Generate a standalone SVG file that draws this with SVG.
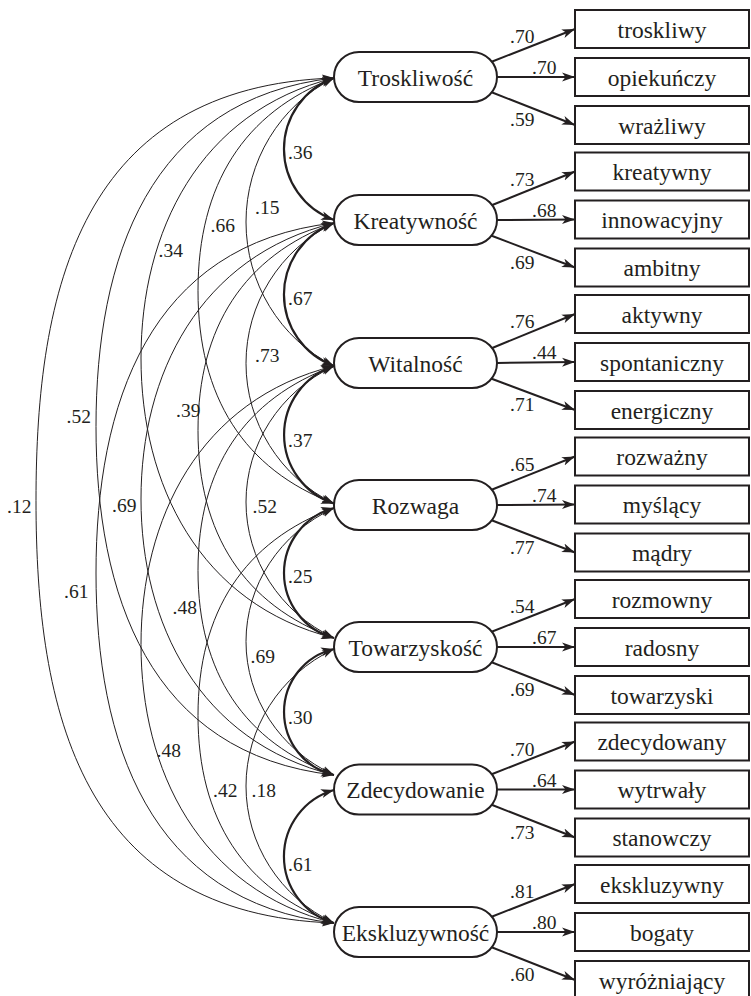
<svg xmlns="http://www.w3.org/2000/svg" width="751" height="996" viewBox="0 0 751 996">
<defs>
<marker id="ah" viewBox="0 0 13 10" refX="13" refY="5" markerWidth="13" markerHeight="10" markerUnits="userSpaceOnUse" orient="auto-start-reverse">
<path d="M0,0.5 L13,5 L0,9.5 L3.5,5 z" fill="#231f20"/>
</marker>
<marker id="ahs" viewBox="0 0 12 9" refX="12" refY="4.5" markerWidth="12" markerHeight="9" markerUnits="userSpaceOnUse" orient="auto-start-reverse">
<path d="M0,0.5 L12,4.5 L0,8.5 L3.2,4.5 z" fill="#231f20"/>
</marker>
</defs>
<style>
.pill{fill:#fff;stroke:#231f20;stroke-width:2}
.box{fill:#fff;stroke:#231f20;stroke-width:2}
.lbl{font-family:"Liberation Serif","Times New Roman",serif;font-size:23.5px;fill:#231f20;text-anchor:middle}
.num{font-family:"Liberation Serif","Times New Roman",serif;font-size:19.5px;fill:#231f20}
.load{fill:none;stroke:#231f20;stroke-width:2;marker-end:url(#ah)}
.cov{fill:none;stroke:#231f20;stroke-width:1;marker-start:url(#ahs);marker-end:url(#ahs)}
.covb{fill:none;stroke:#231f20;stroke-width:2.2;marker-start:url(#ah);marker-end:url(#ah)}
</style>
<rect width="751" height="996" fill="#fff"/>

<g id="connectors">
<path class="cov" d="M334,78 C80.7,86.45 36,289.25 36,500.5 C36,711.75 80.7,914.55 334,923"/>
<path class="cov" d="M334,78 C148.4,98.9 96,259.2 96,426.5 C96,593.8 148.4,754.1 334,775"/>
<path class="cov" d="M334,223 C148.4,244 96,405 96,573 C96,741 148.4,902 334,923"/>
<path class="cov" d="M334,78 C198.9,111.6 141,232 141,358 C141,484 198.9,604.4 334,638"/>
<path class="cov" d="M334,223 C198.9,256.1 141,374.8 141,499 C141,623.2 198.9,741.9 334,775"/>
<path class="cov" d="M334,366 C198.9,399.4 141,519.2 141,644.5 C141,769.8 198.9,889.6 334,923"/>
<path class="cov" d="M334,78 C244.2,112 198,184.35 198,290.75 C198,397.15 244.2,469.5 334,503.5"/>
<path class="cov" d="M334,223 C244.2,256.2 198,326.75 198,430.5 C198,534.25 244.2,604.8 334,638"/>
<path class="cov" d="M334,366 C244.2,398.7 198,468.25 198,570.5 C198,672.75 244.2,742.3 334,775"/>
<path class="cov" d="M334,508 C244.2,541.2 198,611.75 198,715.5 C198,819.25 244.2,889.8 334,923"/>
<path class="cov" d="M334,78 C279.4,105.4 246,161.5 246,222 C246,282.5 279.4,338.6 334,366"/>
<path class="cov" d="M334,223 C279.4,249.6 246,304.35 246,363.25 C246,422.15 279.4,476.9 334,503.5"/>
<path class="cov" d="M334,366 C279.4,391.8 246,444.9 246,502 C246,559.1 279.4,612.2 334,638"/>
<path class="cov" d="M334,508 C279.4,533.4 246,585.4 246,641.5 C246,697.6 279.4,749.6 334,775"/>
<path class="cov" d="M334,649 C279.4,675 246,728.5 246,786 C246,843.5 279.4,897 334,923"/>
<path class="covb" d="M334,78 A75.4,75.4 0 0 0 334,220"/>
<path class="covb" d="M334,223 A76.1,76.1 0 0 0 334,366"/>
<path class="covb" d="M334,366 A72.3,72.3 0 0 0 334,503.5"/>
<path class="covb" d="M334,508 A67.25,67.25 0 0 0 334,638"/>
<path class="covb" d="M334,649 A64.7,64.7 0 0 0 334,775"/>
<path class="covb" d="M334,790 A69.2,69.2 0 0 0 334,923"/>
<path class="load" d="M491,62 L575,29"/><path class="load" d="M497,77 L575,77"/><path class="load" d="M491,92 L575,125"/>
<path class="load" d="M491,205.5 L575,171.5"/><path class="load" d="M497,220 L575,219.5"/><path class="load" d="M491,235.5 L575,267.5"/>
<path class="load" d="M491,348.5 L575,314"/><path class="load" d="M497,363 L575,362"/><path class="load" d="M491,378.5 L575,410"/>
<path class="load" d="M491,490 L575,456.5"/><path class="load" d="M497,505 L575,504.5"/><path class="load" d="M491,520 L575,552.5"/>
<path class="load" d="M491,632 L575,599"/><path class="load" d="M497,647 L575,647"/><path class="load" d="M491,662 L575,695"/>
<path class="load" d="M491,774.5 L575,741.5"/><path class="load" d="M497,789.5 L575,789.5"/><path class="load" d="M491,804.5 L575,837.5"/>
<path class="load" d="M491,917 L575,884"/><path class="load" d="M497,932 L575,932"/><path class="load" d="M491,947 L575,980"/>
</g>

<g id="connector-labels" class="num">
<text x="288" y="159">.36</text>
<text x="288" y="305">.67</text>
<text x="288" y="446.5">.37</text>
<text x="288" y="583">.25</text>
<text x="288" y="724">.30</text>
<text x="288" y="870.5">.61</text>
<text x="255" y="214">.15</text>
<text x="210.5" y="231.5">.66</text>
<text x="158.5" y="256.5">.34</text>
<text x="66.5" y="422.5">.52</text>
<text x="7" y="512.5">.12</text>
<text x="255" y="361.5">.73</text>
<text x="176" y="416.5">.39</text>
<text x="112" y="512">.69</text>
<text x="64" y="598">.61</text>
<text x="252.5" y="512.5">.52</text>
<text x="172.5" y="614">.48</text>
<text x="156.5" y="757">.48</text>
<text x="250.5" y="663">.69</text>
<text x="213" y="797">.42</text>
<text x="251.5" y="796.5">.18</text>
<text x="510" y="43">.70</text><text x="532" y="74">.70</text><text x="510" y="126">.59</text>
<text x="510" y="185.5">.73</text><text x="532" y="216.5">.68</text><text x="510" y="268.5">.69</text>
<text x="510" y="328">.76</text><text x="532" y="359">.44</text><text x="510" y="411">.71</text>
<text x="510" y="470.5">.65</text><text x="532" y="501.5">.74</text><text x="510" y="553.5">.77</text>
<text x="510" y="613">.54</text><text x="532" y="644">.67</text><text x="510" y="696">.69</text>
<text x="510" y="755.5">.70</text><text x="532" y="786.5">.64</text><text x="510" y="838.5">.73</text>
<text x="510" y="898">.81</text><text x="532" y="929">.80</text><text x="510" y="981">.60</text>
</g>

<g id="troskliwosc"><rect class="pill" x="334" y="52" width="163" height="50" rx="25"/><text class="lbl" x="415.5" y="85.5">Troskliwość</text></g>
<g id="kreatywnosc"><rect class="pill" x="334" y="195" width="163" height="50" rx="25"/><text class="lbl" x="415.5" y="228.5">Kreatywność</text></g>
<g id="witalnosc"><rect class="pill" x="334" y="338" width="163" height="50" rx="25"/><text class="lbl" x="415.5" y="371.5">Witalność</text></g>
<g id="rozwaga"><rect class="pill" x="334" y="480" width="163" height="50" rx="25"/><text class="lbl" x="415.5" y="513.5">Rozwaga</text></g>
<g id="towarzyskosc"><rect class="pill" x="334" y="622" width="163" height="50" rx="25"/><text class="lbl" x="415.5" y="655.5">Towarzyskość</text></g>
<g id="zdecydowanie"><rect class="pill" x="334" y="764.5" width="163" height="50" rx="25"/><text class="lbl" x="415.5" y="798">Zdecydowanie</text></g>
<g id="ekskluzywnosc"><rect class="pill" x="334" y="907" width="163" height="50" rx="25"/><text class="lbl" x="415.5" y="940.5">Ekskluzywność</text></g>

<g id="troskliwy"><rect class="box" x="575" y="10" width="174" height="38"/><text class="lbl" x="662" y="37.5">troskliwy</text></g>
<g id="opiekunczy"><rect class="box" x="575" y="58" width="174" height="38"/><text class="lbl" x="662" y="85.5">opiekuńczy</text></g>
<g id="wrazliwy"><rect class="box" x="575" y="106" width="174" height="38"/><text class="lbl" x="662" y="133.5">wrażliwy</text></g>
<g id="kreatywny"><rect class="box" x="575" y="152.5" width="174" height="38"/><text class="lbl" x="662" y="180">kreatywny</text></g>
<g id="innowacyjny"><rect class="box" x="575" y="200.5" width="174" height="38"/><text class="lbl" x="662" y="228">innowacyjny</text></g>
<g id="ambitny"><rect class="box" x="575" y="248.5" width="174" height="38"/><text class="lbl" x="662" y="276">ambitny</text></g>
<g id="aktywny"><rect class="box" x="575" y="295" width="174" height="38"/><text class="lbl" x="662" y="322.5">aktywny</text></g>
<g id="spontaniczny"><rect class="box" x="575" y="343" width="174" height="38"/><text class="lbl" x="662" y="370.5">spontaniczny</text></g>
<g id="energiczny"><rect class="box" x="575" y="391" width="174" height="38"/><text class="lbl" x="662" y="418.5">energiczny</text></g>
<g id="rozwazny"><rect class="box" x="575" y="437.5" width="174" height="38"/><text class="lbl" x="662" y="465">rozważny</text></g>
<g id="myslacy"><rect class="box" x="575" y="485.5" width="174" height="38"/><text class="lbl" x="662" y="513">myślący</text></g>
<g id="madry"><rect class="box" x="575" y="533.5" width="174" height="38"/><text class="lbl" x="662" y="561">mądry</text></g>
<g id="rozmowny"><rect class="box" x="575" y="580" width="174" height="38"/><text class="lbl" x="662" y="607.5">rozmowny</text></g>
<g id="radosny"><rect class="box" x="575" y="628" width="174" height="38"/><text class="lbl" x="662" y="655.5">radosny</text></g>
<g id="towarzyski"><rect class="box" x="575" y="676" width="174" height="38"/><text class="lbl" x="662" y="703.5">towarzyski</text></g>
<g id="zdecydowany"><rect class="box" x="575" y="722.5" width="174" height="38"/><text class="lbl" x="662" y="750">zdecydowany</text></g>
<g id="wytrwaly"><rect class="box" x="575" y="770.5" width="174" height="38"/><text class="lbl" x="662" y="798">wytrwały</text></g>
<g id="stanowczy"><rect class="box" x="575" y="818.5" width="174" height="38"/><text class="lbl" x="662" y="846">stanowczy</text></g>
<g id="ekskluzywny"><rect class="box" x="575" y="865" width="174" height="38"/><text class="lbl" x="662" y="892.5">ekskluzywny</text></g>
<g id="bogaty"><rect class="box" x="575" y="913" width="174" height="38"/><text class="lbl" x="662" y="940.5">bogaty</text></g>
<g id="wyrozniajacy"><rect class="box" x="575" y="961" width="174" height="38"/><text class="lbl" x="662" y="988.5">wyróżniający</text></g>
</svg>
